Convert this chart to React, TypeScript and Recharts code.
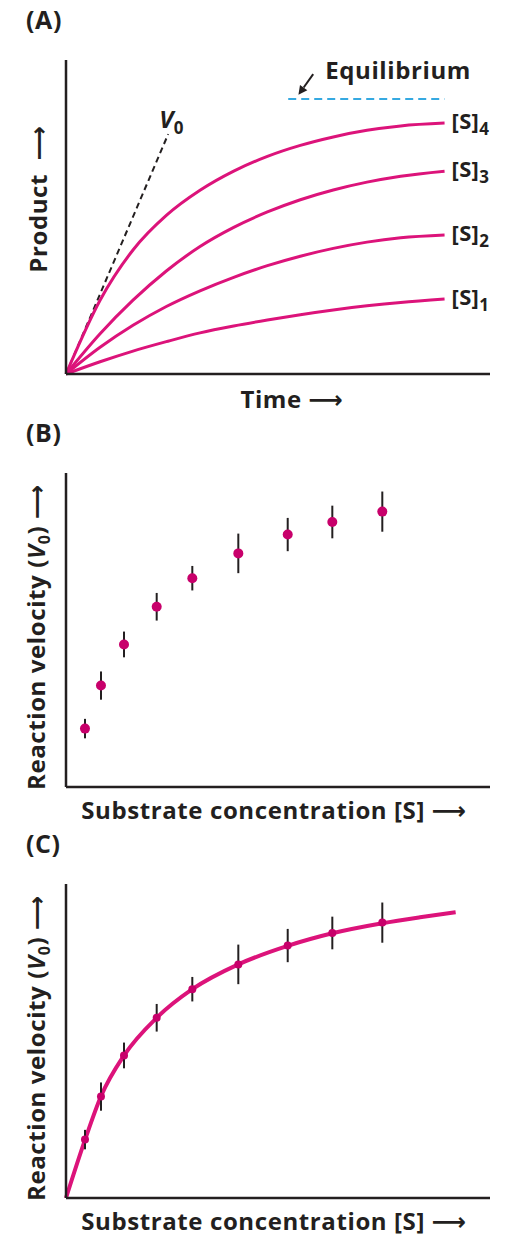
import React from 'react';
import {
  ComposedChart,
  Line,
  Scatter,
  ErrorBar,
  XAxis,
  YAxis,
  ReferenceLine,
  ReferenceDot,
  Label,
} from 'recharts';

const FONT = '"Open Sans", "DejaVu Sans", sans-serif';
const INK = '#231f20';
const MAGENTA = '#dc137a';
const DOT = '#c8006b';
const SKY = '#35a9e1';

// (A) product formed over time at four substrate concentrations
const time = [0, 0.9, 1.77, 2.65, 3.54, 4.43, 5.32, 6.19, 7.06, 7.95, 8.84, 10];
const s1 = [0, 3.9, 7.3, 10.3, 13.1, 15.3, 17.2, 18.9, 20.4, 21.7, 22.8, 23.9];
const s2 = [0, 8.5, 15.5, 21.5, 26.5, 30.8, 34.5, 37.5, 40.0, 42.0, 43.4, 44.3];
const s3 = [0, 12.8, 23.5, 32.8, 40.6, 46.7, 51.6, 55.5, 58.6, 61.1, 63.0, 64.6];
const s4 = [0, 23.5, 39.5, 50.5, 58.5, 64.6, 69.3, 72.8, 75.5, 77.6, 79.0, 79.9];
const v0Time = [0, 2.7];
const v0Product = [0, 76.4];
const equilibriumLevel = 87.6;
const equilibriumSpan = [5.87, 10];
const equilibriumArrow = [
  { x: 6.53, y: 95.5 },
  { x: 6.14, y: 88.9 },
];

// (B)/(C) initial velocity measured at nine substrate concentrations
const substrate = [0.448, 0.825, 1.368, 2.139, 2.979, 4.064, 5.229, 6.281, 7.46];
const velocity = [18.6, 32.3, 45.4, 57.4, 66.5, 74.4, 80.4, 84.4, 87.7];
const velocityErr = [3.1, 4.5, 4.1, 4.4, 3.9, 6.3, 5.3, 5.2, 6.4];

// (C) hyperbola drawn through the points
const fitSubstrate = [0, 0.448, 0.825, 1.368, 2.139, 2.979, 4.064, 5.229, 6.281, 7.46, 8.35, 9.19];
const fitVelocity = [0, 18.5, 32.4, 45.4, 57.4, 66.5, 74.4, 80.3, 84.3, 87.5, 89.4, 91.0];

const productRows = time.map((t, i) => ({ t, s1: s1[i], s2: s2[i], s3: s3[i], s4: s4[i] }));
const v0Rows = v0Time.map((t, i) => ({ t, p: v0Product[i] }));
const pointRows = substrate.map((x, i) => ({ x, y: velocity[i], err: velocityErr[i] }));
const fitRows = fitSubstrate.map((x, i) => ({ x, y: fitVelocity[i] }));

const W = 510;
// plot box is 60px from the panel top and 314px tall
const margin = (h: number) => ({ top: 60, right: 20, bottom: h - 375, left: 65 });

const titleStyle: React.CSSProperties = {
  fontFamily: FONT,
  fontWeight: 700,
  fontSize: 24,
  fill: INK,
  letterSpacing: 0.6,
};

const axisLine = { stroke: INK, strokeWidth: 2.5 };

function xTitle(children: React.ReactNode, dx: number, dy: number) {
  return (props: any) => {
    const vb = props.viewBox;
    return (
      <text x={vb.x + vb.width / 2 + dx} y={vb.y + dy} textAnchor="middle" style={titleStyle}>
        {children}
      </text>
    );
  };
}

function yTitle(children: React.ReactNode, panel: string, baseX: number, dy: number) {
  return (props: any) => {
    const vb = props.viewBox;
    const cy = vb.y + vb.height / 2 + dy;
    return (
      <g>
        <text
          x={baseX}
          y={cy}
          transform={`rotate(-90 ${baseX} ${cy})`}
          textAnchor="middle"
          style={titleStyle}
        >
          {children}
        </text>
        <text x={26} y={vb.y - 31} style={{ ...titleStyle, fontSize: 25 }}>
          {panel}
        </text>
      </g>
    );
  };
}

function subLabel(main: string, sub: string, dx: number, dy: number, italic = false) {
  return (props: any) => {
    const vb = props.viewBox;
    return (
      <text x={vb.x + dx} y={vb.y + dy} style={{ ...titleStyle, fontSize: 22, letterSpacing: 0.3 }}>
        <tspan fontStyle={italic ? 'italic' : 'normal'} fontSize={italic ? 24 : 22}>
          {main}
        </tspan>
        <tspan dy={6} fontSize={17}>
          {sub}
        </tspan>
      </text>
    );
  };
}

function plainLabel(text: string, dx: number, dy: number) {
  return (props: any) => {
    const vb = props.viewBox;
    return (
      <text x={vb.x + dx} y={vb.y + dy} style={titleStyle}>
        {text}
      </text>
    );
  };
}

const arrowShape = (props: any) => {
  const { x1, y1, x2, y2 } = props;
  const ang = Math.atan2(y2 - y1, x2 - x1);
  const len = 9;
  const half = 4.5;
  const bx = x2 - len * Math.cos(ang);
  const by = y2 - len * Math.sin(ang);
  const px = -Math.sin(ang) * half;
  const py = Math.cos(ang) * half;
  return (
    <g>
      <line x1={x1} y1={y1} x2={bx} y2={by} stroke={INK} strokeWidth={2} />
      <polygon points={`${x2},${y2} ${bx + px},${by + py} ${bx - px},${by - py}`} fill={INK} />
    </g>
  );
};

const velocityTitle = (
  <>
    Reaction velocity (<tspan fontStyle="italic">V</tspan>
    <tspan dy={5} fontSize={16}>
      0
    </tspan>
    <tspan dy={-5}>)&nbsp;⟶</tspan>
  </>
);

function PanelA({ h }: { h: number }) {
  const last = time.length - 1;
  return (
    <ComposedChart width={W} height={h} margin={margin(h)}>
      <XAxis
        type="number"
        dataKey="t"
        domain={[0, 11.2]}
        tick={false}
        tickLine={false}
        height={1}
        axisLine={axisLine}
      >
        <Label content={xTitle(<>Time&nbsp;⟶</>, 14, 34)} />
      </XAxis>
      <YAxis type="number" domain={[0, 100]} tick={false} tickLine={false} width={1} axisLine={axisLine}>
        <Label content={yTitle(<>Product&nbsp;&nbsp;⟶</>, '(A)', 47, -18)} />
      </YAxis>
      <ReferenceLine
        segment={[
          { x: equilibriumSpan[0], y: equilibriumLevel },
          { x: equilibriumSpan[1], y: equilibriumLevel },
        ]}
        stroke={SKY}
        strokeWidth={2}
        strokeDasharray="8 5"
      />
      <ReferenceLine segment={equilibriumArrow} shape={arrowShape} />
      <Line
        data={v0Rows}
        dataKey="p"
        type="linear"
        stroke={INK}
        strokeWidth={2}
        strokeDasharray="6 4"
        dot={false}
        isAnimationActive={false}
      />
      {(['s1', 's2', 's3', 's4'] as const).map((k) => (
        <Line
          key={k}
          data={productRows}
          dataKey={k}
          type="monotone"
          stroke={MAGENTA}
          strokeWidth={3}
          dot={false}
          isAnimationActive={false}
        />
      ))}
      <ReferenceDot x={v0Time[1]} y={v0Product[1]} r={0} fill="none" stroke="none">
        <Label content={subLabel('V', '0', -9, -6, true)} />
      </ReferenceDot>
      <ReferenceDot x={equilibriumArrow[0].x} y={equilibriumArrow[0].y} r={0} fill="none" stroke="none">
        <Label content={plainLabel('Equilibrium', 12, 5)} />
      </ReferenceDot>
      <ReferenceDot x={time[last]} y={s4[last]} r={0} fill="none" stroke="none">
        <Label content={subLabel('[S]', '4', 7, 6)} />
      </ReferenceDot>
      <ReferenceDot x={time[last]} y={s3[last]} r={0} fill="none" stroke="none">
        <Label content={subLabel('[S]', '3', 7, 6)} />
      </ReferenceDot>
      <ReferenceDot x={time[last]} y={s2[last]} r={0} fill="none" stroke="none">
        <Label content={subLabel('[S]', '2', 7, 6)} />
      </ReferenceDot>
      <ReferenceDot x={time[last]} y={s1[last]} r={0} fill="none" stroke="none">
        <Label content={subLabel('[S]', '1', 7, 6)} />
      </ReferenceDot>
    </ComposedChart>
  );
}

const dotShape = (r: number) => (props: any) => (
  <circle cx={props.cx} cy={props.cy} r={r} fill={DOT} />
);

function VelocityPanel({ h, letter, withFit }: { h: number; letter: string; withFit: boolean }) {
  return (
    <ComposedChart width={W} height={h} margin={margin(h)}>
      <XAxis
        type="number"
        dataKey="x"
        domain={[0, 10]}
        tick={false}
        tickLine={false}
        height={1}
        axisLine={axisLine}
      >
        <Label content={xTitle(<>Substrate concentration [S]&nbsp;⟶</>, -4, 32)} />
      </XAxis>
      <YAxis
        type="number"
        dataKey="y"
        domain={[0, 100]}
        tick={false}
        tickLine={false}
        width={1}
        axisLine={axisLine}
      >
        <Label content={yTitle(velocityTitle, letter, 45, 7)} />
      </YAxis>
      {withFit && (
        <Line
          data={fitRows}
          dataKey="y"
          type="monotone"
          stroke={MAGENTA}
          strokeWidth={4}
          dot={false}
          isAnimationActive={false}
        />
      )}
      <Scatter data={pointRows} shape={dotShape(withFit ? 4 : 5)} isAnimationActive={false}>
        <ErrorBar dataKey="err" direction="y" width={0} stroke={INK} strokeWidth={2} />
      </Scatter>
    </ComposedChart>
  );
}

export default function App() {
  return (
    <div style={{ position: 'absolute', left: 0, top: 0, width: W, height: 1238, background: '#fff' }}>
      <div style={{ position: 'absolute', left: 0, top: 0 }}>
        <PanelA h={424} />
      </div>
      <div style={{ position: 'absolute', left: 0, top: 413 }}>
        <VelocityPanel h={424} letter="(B)" withFit={false} />
      </div>
      <div style={{ position: 'absolute', left: 0, top: 824 }}>
        <VelocityPanel h={414} letter="(C)" withFit={true} />
      </div>
    </div>
  );
}
